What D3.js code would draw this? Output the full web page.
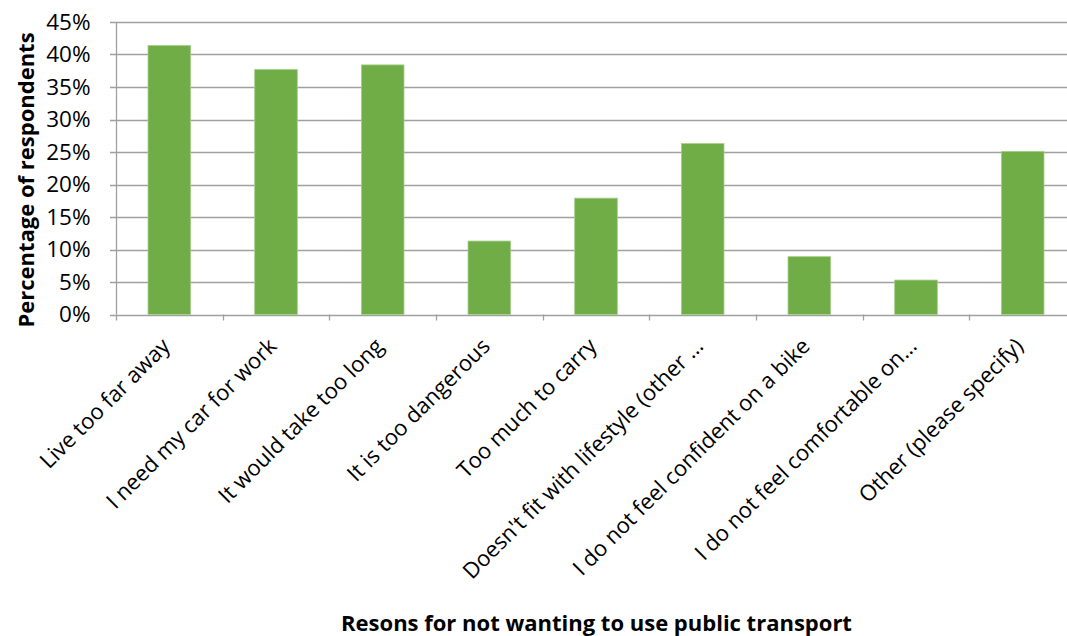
<!DOCTYPE html>
<html>
<head>
<meta charset="utf-8">
<script src="https://cdn.jsdelivr.net/npm/d3@7"></script>
<style>
  html, body { margin: 0; padding: 0; background: #ffffff; }
  svg { display: block; }
  text { font-family: "Open Sans", "Noto Sans", sans-serif; fill: #000; }
</style>
</head>
<body>
<svg id="chart" width="1067" height="636"></svg>
<script>
// Survey responses: reasons for not wanting to use public transport
const categories = [
  "Live too far away",
  "I need my car for work",
  "It would take too long",
  "It is too dangerous",
  "Too much to carry",
  "Doesn't fit with lifestyle (other …",
  "I do not feel confident on a bike",
  "I do not feel comfortable on…",
  "Other (please specify)"
];
const shares = [0.414, 0.377, 0.384, 0.113, 0.179, 0.263, 0.089, 0.053, 0.251];
const yTicks = [0, 0.05, 0.10, 0.15, 0.20, 0.25, 0.30, 0.35, 0.40, 0.45];
const yTitle = "Percentage of respondents";
const xTitle = "Resons for not wanting to use public transport";

const svg = d3.select("#chart");
const plot = { left: 116, right: 1076, top: 22, bottom: 314.5 };

const x = d3.scaleBand()
  .domain(categories)
  .range([plot.left, plot.right])
  .paddingInner(0.6)
  .paddingOuter(0.3);

const y = d3.scaleLinear()
  .domain([0, 0.45])
  .range([plot.bottom, plot.top]);

// horizontal gridlines
svg.append("g")
  .selectAll("line")
  .data(yTicks)
  .join("line")
  .attr("x1", plot.left - 6)
  .attr("x2", plot.right)
  .attr("y1", d => Math.round(y(d)) + 0.5)
  .attr("y2", d => Math.round(y(d)) + 0.5)
  .attr("stroke", "#a0a0a0")
  .attr("stroke-width", 1.3);

// y axis line
svg.append("line")
  .attr("x1", plot.left + 0.5).attr("x2", plot.left + 0.5)
  .attr("y1", plot.top).attr("y2", plot.bottom)
  .attr("stroke", "#a0a0a0").attr("stroke-width", 1.3);

// x tick marks at category boundaries
const edges = d3.range(categories.length + 1).map(i => plot.left + i * x.step());
svg.append("g")
  .selectAll("line")
  .data(edges)
  .join("line")
  .attr("x1", d => Math.round(d) + 0.5)
  .attr("x2", d => Math.round(d) + 0.5)
  .attr("y1", plot.bottom)
  .attr("y2", plot.bottom + 6)
  .attr("stroke", "#a0a0a0").attr("stroke-width", 1.3);

// y tick labels
svg.append("g")
  .selectAll("text")
  .data(yTicks)
  .join("text")
  .attr("x", 90.5)
  .attr("y", d => y(d))
  .attr("dy", "0.35em")
  .attr("text-anchor", "end")
  .style("font-size", "22.5px")
  .text(d => d3.format(".0%")(d));

// bars
svg.append("g")
  .selectAll("rect")
  .data(shares)
  .join("rect")
  .attr("x", (d, i) => x(categories[i]))
  .attr("width", x.bandwidth())
  .attr("y", d => y(d))
  .attr("height", d => y(0) - y(d))
  .attr("fill", "#70ad47")
  .attr("stroke", "#a9d08e")
  .attr("stroke-width", 0.8);

// rotated category labels
svg.append("g")
  .selectAll("text")
  .data(categories)
  .join("text")
  .attr("text-anchor", "end")
  .attr("transform", d => `translate(${x(d) + x.bandwidth() / 2 + 2},${plot.bottom + 33}) rotate(-45)`)
  .style("font-size", "22px")
  .text(d => d);

// axis titles
svg.append("text")
  .attr("transform", `translate(33.5,180) rotate(-90)`)
  .attr("text-anchor", "middle")
  .style("font-size", "22px")
  .style("font-weight", "bold")
  .text(yTitle);

svg.append("text")
  .attr("x", 596.5)
  .attr("y", 631)
  .attr("text-anchor", "middle")
  .style("font-size", "22px")
  .style("font-weight", "bold")
  .text(xTitle);
</script>
</body>
</html>
